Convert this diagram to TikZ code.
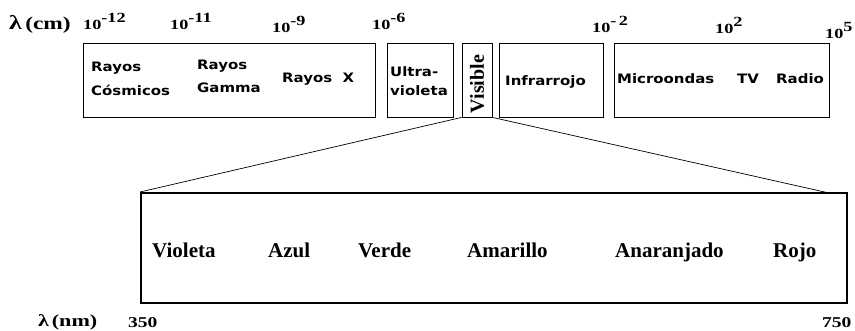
\documentclass[tikz,border=0pt]{standalone}
\usepackage{fontspec}
\setmainfont{Liberation Serif}
\newfontfamily\bandfont[FakeStretch=1.15]{DejaVu Sans Bold}
\newfontfamily\numfont[FakeStretch=1.3]{Liberation Serif Bold}
\usetikzlibrary{calc}

\tikzset{
  band/.style={draw,line width=0.8pt,inner sep=0pt},
  bandtxt/.style={font=\bandfont\fontsize{13}{15}\selectfont,anchor=base west,inner sep=0pt,align=left},
  expo/.style={font=\numfont\fontsize{14}{16}\selectfont,anchor=base west,inner sep=0pt},
  colour/.style={font=\bfseries\fontsize{21}{23}\selectfont,anchor=base west,inner sep=0pt}
}
\newcommand{\tenpow}[1]{10\raisebox{7pt}{#1}}

\begin{document}
\begin{tikzpicture}[x=1pt,y=-1pt]
\useasboundingbox (0,0) rectangle (855,330);
% bands of the spectrum
\node[band,minimum width=292,minimum height=74] (gamma) at (229,80) {};
\node[band,minimum width=66,minimum height=74] (uv) at (420,80) {};
\node[band,minimum width=30,minimum height=74] (vis) at (477,80) {};
\node[band,minimum width=104,minimum height=74] (ir) at (551,80) {};
\node[band,minimum width=215,minimum height=74] (radio) at (721.5,80) {};
% texts of the bands
\node[bandtxt] (cosm1) at (91,71) {Rayos};
\node[bandtxt] (cosm2) at (91,95) {Cósmicos};
\node[bandtxt] (gam1) at (197,69) {Rayos};
\node[bandtxt] (gam2) at (197,92) {Gamma};
\node[bandtxt] (xray) at (282,82) {Rayos\ \ X};
\node[bandtxt] (uv1) at (390,76) {Ultra-};
\node[bandtxt] (uv2) at (390,95) {violeta};
\node[font=\bfseries\fontsize{20}{22}\selectfont,rotate=90,inner sep=0pt] (vistxt) at (477,84) {Visible};
\node[bandtxt] (irtxt) at (505,85) {Infrarrojo};
\node[bandtxt] (micro) at (617,83) {Microondas};
\node[bandtxt] (tv) at (737,83) {TV};
\node[bandtxt] (rad) at (776,83) {Radio};
% wavelength scale in cm
\node[expo,font=\numfont\fontsize{20}{22}\selectfont] (lcm) at (9,29) {λ\,\fontsize{18}{20}\selectfont(cm)};
\foreach \x/\y/\e/\nm in {83/29/-12/a,170/29/-11/b,272/32/-9/c,372/29/-6/d,592/32/-\,2/e,715/33/2/f,825/38/5/g}
  \node[expo] (p\nm) at (\x,\y) {\tenpow{\e}};
% enlarged visible band
\node[band,line width=2pt,minimum width=706,minimum height=110] (spec) at (494,248) {};
\coordinate (specR) at (829,193);
\draw[line width=0.7pt] (vis.south west) -- (spec.north west);
\draw[line width=0.7pt] (vis.south east) -- (specR);
\foreach \x/\lab in {152/Violeta,268/Azul,358/Verde,467/Amarillo,615/Anaranjado,773/Rojo}
  \node[colour] (c\lab) at (\x,257) {\lab};
% wavelength scale in nm
\node[expo,font=\numfont\fontsize{17}{19}\selectfont] (lnm) at (38,326) {λ\,(nm)};
\node[expo,font=\numfont\fontsize{15}{17}\selectfont] (n350) at (128,327) {350};
\node[expo,font=\numfont\fontsize{15}{17}\selectfont] (n750) at (822,327) {750};
\end{tikzpicture}
\end{document}
